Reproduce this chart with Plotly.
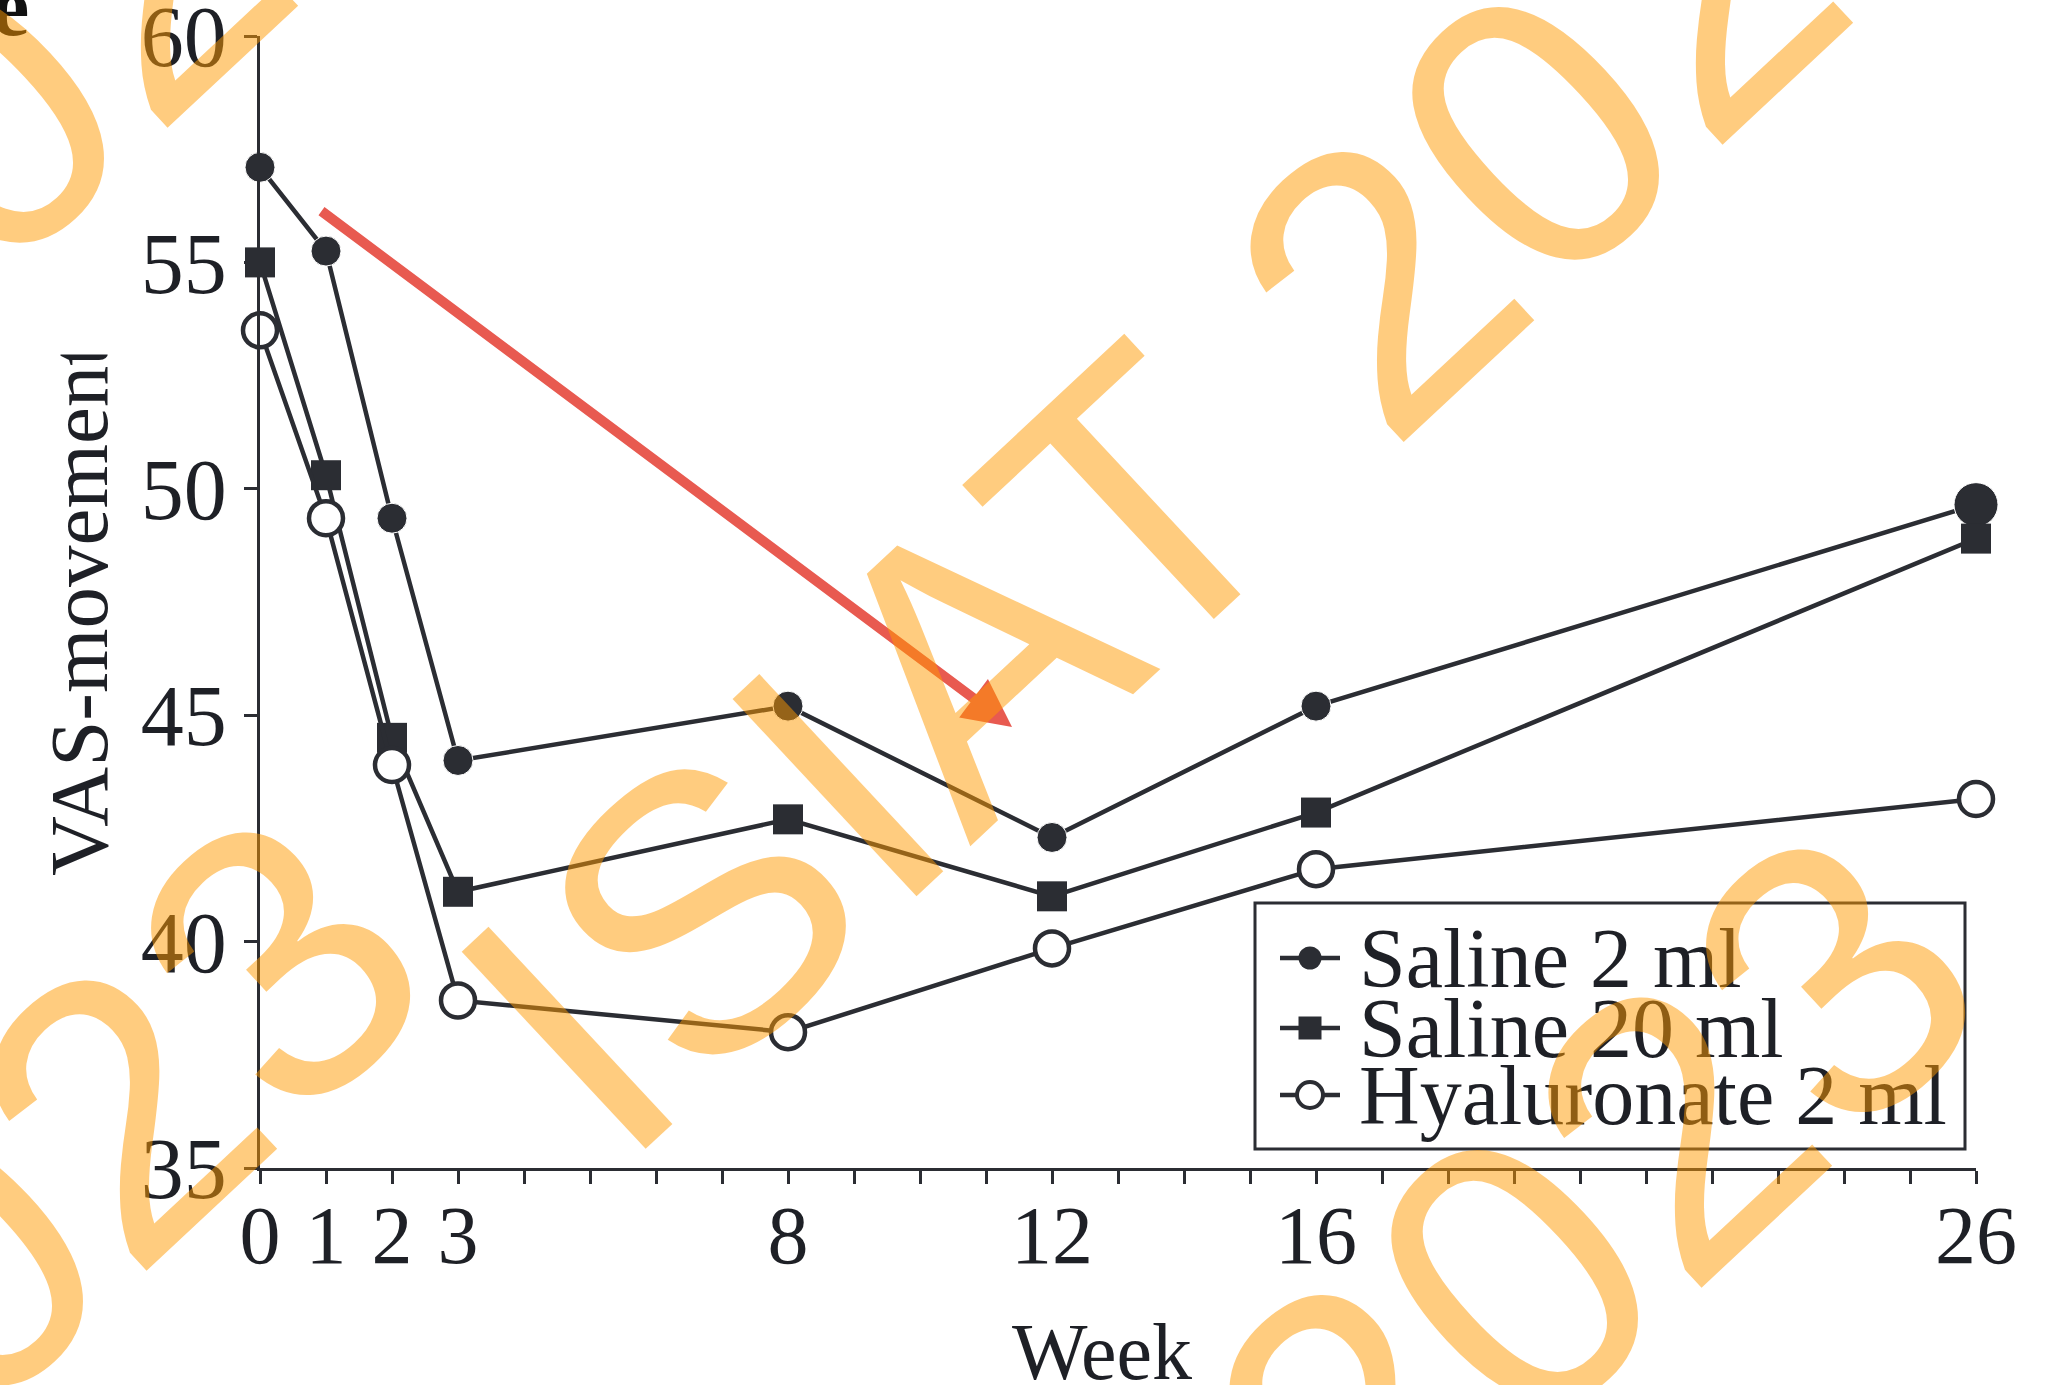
import plotly.graph_objects as go

# ---- data -------------------------------------------------------------
weeks = [0, 1, 2, 3, 8, 12, 16, 26]
saline_2ml = [57.1, 55.25, 49.35, 44.0, 45.2, 42.3, 45.2, 49.65]
saline_20ml = [55.0, 50.3, 44.5, 41.1, 42.7, 41.0, 42.85, 48.9]
hyaluronate_2ml = [53.5, 49.35, 43.9, 38.7, 38.0, 39.85, 41.6, 43.15]
series_names = ["Saline 2 ml", "Saline 20 ml", "Hyaluronate 2 ml"]

week_ticks = list(range(0, 27))
labelled_weeks = [0, 1, 2, 3, 8, 12, 16, 26]
y_ticks = [35, 40, 45, 50, 55, 60]
x_title = "Week"
y_title = "VAS-movement"
panel_letter = "e"
watermark_text = "ISIAT 2023"

# ---- geometry (page pixels) -------------------------------------------
W, H = 2070, 1385
L, R, T, B = 260, 1976, 36, 1168


def px(x):
    return (x - L) / (R - L)


def py(y):
    return (B - y) / (B - T)


INK = "#2b2d33"
TEXT = "#1e2026"
SERIF = "Liberation Serif"
SANS = "Liberation Sans"

fig = go.Figure()

# ---- data series ------------------------------------------------------
sizes_s2 = [30] * (len(weeks) - 1) + [44]
fig.add_trace(go.Scatter(
    x=weeks, y=saline_2ml, name=series_names[0], mode="lines+markers",
    line=dict(color=INK, width=4.5),
    marker=dict(symbol="circle", size=sizes_s2, color=INK, opacity=1),
    cliponaxis=False))
fig.add_trace(go.Scatter(
    x=weeks, y=saline_20ml, name=series_names[1], mode="lines+markers",
    line=dict(color=INK, width=4.5),
    marker=dict(symbol="square", size=30, color=INK, opacity=1),
    cliponaxis=False))
fig.add_trace(go.Scatter(
    x=weeks, y=hyaluronate_2ml, name=series_names[2], mode="lines+markers",
    line=dict(color=INK, width=4.5),
    marker=dict(symbol="circle", size=34, color="white", opacity=1,
                line=dict(color=INK, width=4.5)),
    cliponaxis=False))

# ---- hand-built legend (pixel overlay axes) ---------------------------
legend_rows = [958, 1028, 1095]
legend_markers = [
    dict(symbol="circle", size=23, color=INK),
    dict(symbol="square", size=23, color=INK),
    dict(symbol="circle", size=26, color="white", line=dict(color=INK, width=4)),
]
for row_y, mk in zip(legend_rows, legend_markers):
    fig.add_trace(go.Scatter(
        x=[1280, 1340], y=[row_y, row_y], mode="lines",
        line=dict(color=INK, width=4.5), xaxis="x2", yaxis="y2",
        hoverinfo="skip", showlegend=False, cliponaxis=False))
    fig.add_trace(go.Scatter(
        x=[1310], y=[row_y], mode="markers", marker=mk,
        xaxis="x2", yaxis="y2", hoverinfo="skip",
        showlegend=False, cliponaxis=False))

fig.add_shape(type="rect", xref="x2", yref="y2",
              x0=1255, x1=1965, y0=903, y1=1149,
              line=dict(color=INK, width=3), fillcolor="rgba(0,0,0,0)")

annotations = []
for row_y, name in zip(legend_rows, series_names):
    annotations.append(dict(
        xref="paper", yref="paper", x=px(1357), y=py(row_y),
        xanchor="left", yanchor="middle", text=name, showarrow=False,
        font=dict(family=SERIF, size=84, color=TEXT)))

# ---- axis titles ------------------------------------------------------
annotations.append(dict(
    xref="paper", yref="paper", x=px(1102), y=py(1352),
    xanchor="center", yanchor="middle", text=x_title, showarrow=False,
    font=dict(family=SERIF, size=80, color=TEXT)))
annotations.append(dict(
    xref="paper", yref="paper", x=px(79), y=py(610),
    xanchor="center", yanchor="middle", text=y_title, textangle=-90,
    showarrow=False, font=dict(family=SERIF, size=83, color=TEXT)))
# trimmed top edge of the rotated y title
annotations.append(dict(
    xref="paper", yref="paper", x=px(80), y=py(318),
    xanchor="center", yanchor="middle", text=" ", showarrow=False,
    width=120, height=70, bgcolor="white"))
# panel letter in the corner
annotations.append(dict(
    xref="paper", yref="paper", x=px(10), y=py(6),
    xanchor="center", yanchor="middle", text="<b>%s</b>" % panel_letter,
    showarrow=False, font=dict(family=SERIF, size=84, color="#111111")))

# ---- trend arrow ------------------------------------------------------
tip = (1012, 727)
tail = (320, 210)
annotations.append(dict(
    xref="paper", yref="paper", x=px(tip[0]), y=py(tip[1]),
    ax=tail[0] - tip[0], ay=tail[1] - tip[1], text="",
    showarrow=True, arrowhead=2, arrowwidth=10, arrowsize=0.96,
    arrowcolor="#e85a50", standoff=0))

# ---- tiled watermark --------------------------------------------------
tile_centres = [(-325, 401), (-346, 1544), (1230, 418), (1209, 1561)]
for cx, cy in tile_centres:
    annotations.append(dict(
        xref="paper", yref="paper", x=px(cx), y=py(cy),
        xanchor="center", yanchor="middle", text=watermark_text,
        textangle=-43, showarrow=False,
        font=dict(family=SANS, size=392, color="rgba(255,153,0,0.5)")))

# ---- layout -----------------------------------------------------------
fig.update_layout(
    width=W, height=H,
    margin=dict(l=L, r=W - R, t=T, b=H - B, pad=0, autoexpand=False),
    paper_bgcolor="white", plot_bgcolor="white",
    showlegend=False,
    annotations=annotations,
    xaxis=dict(
        range=[0, 26], tickvals=week_ticks,
        ticktext=[str(w) if w in labelled_weeks else "" for w in week_ticks],
        ticks="outside", ticklen=13, tickwidth=2.5, tickcolor=INK,
        ticklabelstandoff=-19, ticklabeloverflow="allow", automargin=False,
        showline=True, linewidth=3, linecolor=INK,
        showgrid=False, zeroline=False,
        tickfont=dict(family=SERIF, size=82, color=TEXT)),
    yaxis=dict(
        range=[35, 60], tickvals=y_ticks,
        ticks="outside", ticklen=13, tickwidth=2.5, tickcolor=INK,
        ticklabelstandoff=0, ticklabeloverflow="allow", automargin=False,
        showline=True, linewidth=3, linecolor=INK,
        showgrid=False, zeroline=False,
        tickfont=dict(family=SERIF, size=86, color=TEXT)),
    xaxis2=dict(range=[L, R], overlaying="x", anchor="y2", visible=False),
    yaxis2=dict(range=[B, T], overlaying="y", anchor="x2", visible=False),
)

fig.write_html("out.html")
